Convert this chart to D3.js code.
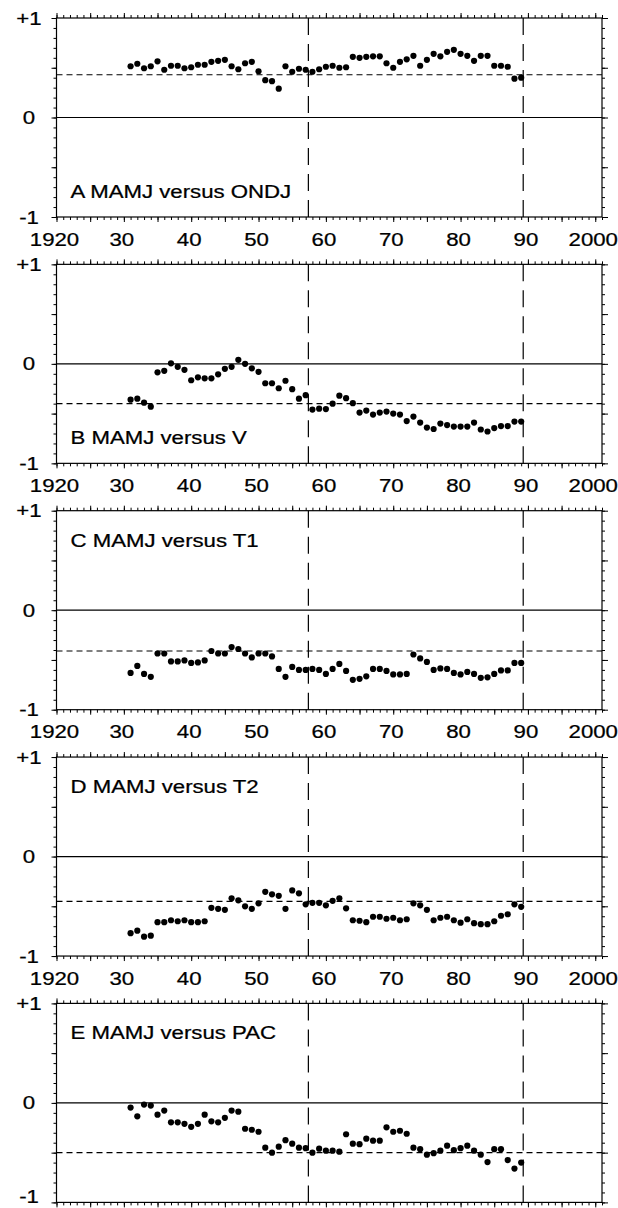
<!DOCTYPE html>
<html>
<head>
<meta charset="utf-8">
<script src="https://cdn.jsdelivr.net/npm/d3@7"></script>
<style>
  body { margin: 0; background: #fff; }
  text { font-family: "Liberation Sans", Arial, sans-serif; fill: #000; stroke: #000; stroke-width: 0.25; }
</style>
</head>
<body>
<div id="chart"></div>
<script>
// years with a point, 1931 - 1989
var years = d3.range(1931, 1990);

var labels = ["A MAMJ versus ONDJ", "B MAMJ versus V", "C MAMJ versus T1", "D MAMJ versus T2", "E MAMJ versus PAC"];

var seriesA = [0.515, 0.54, 0.495, 0.515, 0.565, 0.48, 0.52, 0.52, 0.495, 0.505, 0.53, 0.53, 0.56, 0.57, 0.58, 0.515, 0.485, 0.545, 0.56, 0.465, 0.375, 0.365, 0.29, 0.515, 0.46, 0.49, 0.48, 0.46, 0.485,
  0.51, 0.52, 0.5, 0.505, 0.61, 0.6, 0.61, 0.615, 0.615, 0.545, 0.5, 0.56, 0.585, 0.62, 0.52, 0.58, 0.64, 0.615, 0.66, 0.68, 0.64, 0.62, 0.57, 0.62, 0.62, 0.52, 0.52, 0.51, 0.39, 0.4];
var seriesB = [-0.36, -0.35, -0.39, -0.43, -0.085, -0.07, 0.005, -0.03, -0.06, -0.165, -0.135, -0.145, -0.145, -0.105, -0.05, -0.03, 0.04, 0.0, -0.045, -0.08, -0.195, -0.195, -0.245, -0.17, -0.255, -0.35, -0.315, -0.46, -0.45,
  -0.455, -0.4, -0.32, -0.345, -0.395, -0.49, -0.47, -0.51, -0.49, -0.48, -0.5, -0.51, -0.575, -0.53, -0.59, -0.64, -0.655, -0.6, -0.615, -0.63, -0.63, -0.63, -0.59, -0.66, -0.68, -0.645, -0.625, -0.625, -0.58, -0.58];
var seriesC = [-0.63, -0.56, -0.64, -0.67, -0.435, -0.435, -0.515, -0.515, -0.505, -0.53, -0.525, -0.505, -0.41, -0.435, -0.435, -0.37, -0.39, -0.435, -0.475, -0.435, -0.435, -0.465, -0.59, -0.67, -0.57, -0.6, -0.6, -0.59, -0.6,
  -0.64, -0.59, -0.54, -0.61, -0.7, -0.69, -0.665, -0.59, -0.59, -0.61, -0.645, -0.645, -0.64, -0.445, -0.485, -0.52, -0.6, -0.585, -0.59, -0.63, -0.645, -0.62, -0.64, -0.68, -0.675, -0.64, -0.605, -0.605, -0.53, -0.53];
var seriesD = [-0.77, -0.745, -0.805, -0.795, -0.66, -0.66, -0.64, -0.65, -0.64, -0.66, -0.66, -0.65, -0.515, -0.525, -0.535, -0.42, -0.44, -0.5, -0.525, -0.47, -0.355, -0.38, -0.395, -0.525, -0.34, -0.37, -0.48, -0.465, -0.465,
  -0.49, -0.445, -0.42, -0.52, -0.64, -0.645, -0.66, -0.605, -0.605, -0.625, -0.615, -0.64, -0.63, -0.47, -0.49, -0.535, -0.64, -0.615, -0.605, -0.64, -0.665, -0.63, -0.67, -0.68, -0.68, -0.65, -0.595, -0.58, -0.48, -0.505];
var seriesE = [-0.047, -0.135, -0.017, -0.027, -0.118, -0.077, -0.195, -0.195, -0.21, -0.24, -0.21, -0.118, -0.185, -0.195, -0.15, -0.077, -0.088, -0.26, -0.27, -0.29, -0.45, -0.5, -0.44, -0.375, -0.41, -0.45, -0.455, -0.5, -0.46,
  -0.48, -0.48, -0.49, -0.315, -0.41, -0.415, -0.36, -0.38, -0.38, -0.245, -0.29, -0.28, -0.31, -0.45, -0.465, -0.52, -0.505, -0.48, -0.43, -0.475, -0.455, -0.43, -0.48, -0.52, -0.595, -0.465, -0.465, -0.575, -0.66, -0.6];

// horizontal dashed reference level of each panel
var levels = [0.43, -0.40, -0.41, -0.45, -0.50];

// vertical dashed lines
var periodLines = [1957.4, 1989.3];

var xTickLabels = ["1920", "30", "40", "50", "60", "70", "80", "90", "2000"];
var yTickLabels = ["+1", "0", "-1"];

var allSeries = [seriesA, seriesB, seriesC, seriesD, seriesE];

var width = 618;
var height = 1208;
var panelH = 199;
var panelStep = 246.35;
var sx = 1.2; // horizontal stretch of the lettering

var svg = d3
  .select("#chart")
  .append("svg")
  .attr("width", width)
  .attr("height", height);

var x = d3.scaleLinear().domain([1920, 2001]).range([56.5, 602]);

function tickAxis(g, axis) {
  g.call(axis);
  g.select(".domain").remove();
  g.selectAll("line").attr("stroke", "#000").attr("stroke-width", 1);
  g.selectAll("text").remove();
}

allSeries.forEach((values, i) => {
  var top = 18 + i * panelStep;
  var bottom = top + panelH;
  var y = d3.scaleLinear().domain([-1, 1]).range([bottom, top]);

  var g = svg.append("g").attr("class", "panel");

  // ticks, outward on all four sides
  var minorYears = d3.range(1920, 2002);
  var majorYears = d3.range(1920, 2001, 5);
  var minorY = d3.range(-10, 11).map((d) => d / 10);
  var majorY = [-1, -0.5, 0, 0.5, 1];

  g.append("g").attr("transform", `translate(0,${top})`)
    .call(tickAxis, d3.axisTop(x).tickValues(minorYears).tickSize(3).tickSizeOuter(0));
  g.append("g").attr("transform", `translate(0,${top})`)
    .call(tickAxis, d3.axisTop(x).tickValues(majorYears).tickSize(5).tickSizeOuter(0));
  g.append("g").attr("transform", `translate(0,${bottom})`)
    .call(tickAxis, d3.axisBottom(x).tickValues(minorYears).tickSize(3).tickSizeOuter(0));
  g.append("g").attr("transform", `translate(0,${bottom})`)
    .call(tickAxis, d3.axisBottom(x).tickValues(majorYears).tickSize(5).tickSizeOuter(0));
  g.append("g").attr("transform", `translate(${x(1920)},0)`)
    .call(tickAxis, d3.axisLeft(y).tickValues(minorY).tickSize(3).tickSizeOuter(0));
  g.append("g").attr("transform", `translate(${x(1920)},0)`)
    .call(tickAxis, d3.axisLeft(y).tickValues(majorY).tickSize(5).tickSizeOuter(0));
  g.append("g").attr("transform", `translate(${x(2001)},0)`)
    .call(tickAxis, d3.axisRight(y).tickValues(minorY).tickSize(3).tickSizeOuter(0));
  g.append("g").attr("transform", `translate(${x(2001)},0)`)
    .call(tickAxis, d3.axisRight(y).tickValues(majorY).tickSize(6).tickSizeOuter(0));

  // frame
  g.append("rect")
    .attr("x", x(1920))
    .attr("y", top)
    .attr("width", x(2001) - x(1920))
    .attr("height", panelH)
    .attr("fill", "none")
    .attr("stroke", "#000")
    .attr("stroke-width", 1.2);

  // zero line
  g.append("line")
    .attr("x1", x(1920)).attr("x2", x(2001))
    .attr("y1", y(0)).attr("y2", y(0))
    .attr("stroke", "#000").attr("stroke-width", 1.2);

  // dashed reference level
  g.append("line")
    .attr("x1", x(1920)).attr("x2", x(2001))
    .attr("y1", y(levels[i])).attr("y2", y(levels[i]))
    .attr("stroke", "#000").attr("stroke-width", 1.1)
    .attr("stroke-dasharray", "6,4");

  // vertical dashed lines
  g.selectAll(".period")
    .data(periodLines)
    .enter()
    .append("line")
    .attr("class", "period")
    .attr("x1", (d) => x(d)).attr("x2", (d) => x(d))
    .attr("y1", top).attr("y2", bottom)
    .attr("stroke", "#000").attr("stroke-width", 1.2)
    .attr("stroke-dasharray", "17,9");

  // points
  g.selectAll(".dot")
    .data(values)
    .enter()
    .append("circle")
    .attr("class", "dot")
    .attr("cx", (d, j) => x(years[j]))
    .attr("cy", (d) => y(d))
    .attr("r", 3.1)
    .attr("fill", "#000");

  // y labels (keep the last "-1" inside the picture)
  g.selectAll(".ylab")
    .data(yTickLabels)
    .enter()
    .append("text")
    .attr("class", "ylab")
    .attr("text-anchor", "middle")
    .attr("font-size", 18.5)
    .attr("transform", (d, j) => `translate(29,${Math.min(y(1 - j) + 6.5, height - 5)}) scale(${sx},1)`)
    .text((d) => d);

  // x labels, not below the last panel (cut off in the figure)
  if (i < 4) {
    g.selectAll(".xlab")
      .data(xTickLabels)
      .enter()
      .append("text")
      .attr("class", "xlab")
      .attr("text-anchor", "middle")
      .attr("font-size", 18.5)
      .attr("transform", (d, j) => `translate(${x(1920 + j * 10) - 2},${bottom + 28.5}) scale(${sx},1)`)
      .text((d) => d);
  }

  // panel caption
  var capY = i < 2 ? top + 180 : top + 36;
  g.append("text")
    .attr("font-size", 18.5)
    .attr("transform", `translate(70.5,${capY}) scale(${sx},1)`)
    .text(labels[i]);
});
</script>
</body>
</html>
